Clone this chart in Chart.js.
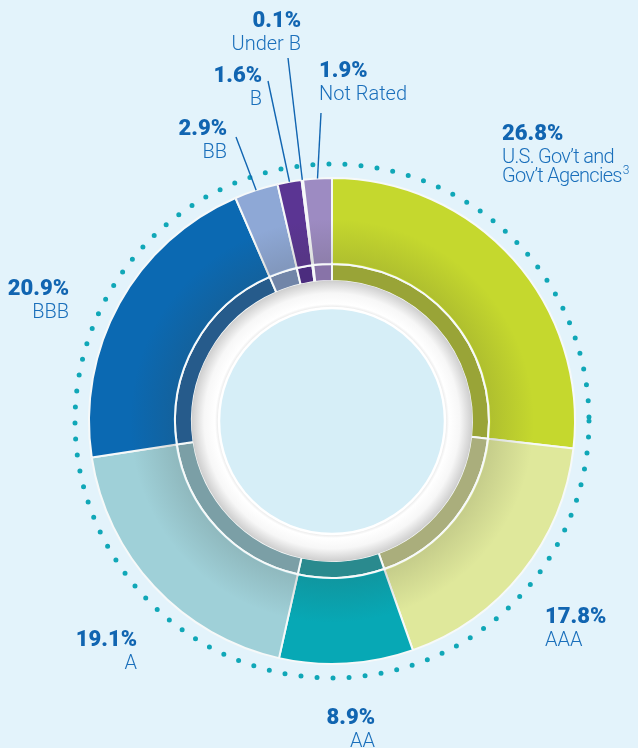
<!DOCTYPE html>
<html>
<head>
<meta charset="utf-8">
<script src="https://cdn.jsdelivr.net/npm/chart.js@4.4.1/dist/chart.umd.min.js"></script>
<style>
  html, body { margin: 0; padding: 0; background: #e3f3fb; }
  .wrap { position: relative; width: 638px; height: 748px; }
</style>
</head>
<body>
<div class="wrap"><canvas id="qualityChart"></canvas></div>
<script>
// Credit quality breakdown (% of portfolio), clockwise from 12 o'clock
const categories = ['U.S. Gov’t and Gov’t Agencies', 'AAA', 'AA', 'A', 'BBB', 'BB', 'B', 'Under B', 'Not Rated'];
const shares = [26.8, 17.8, 8.9, 19.1, 20.9, 2.9, 1.6, 0.1, 1.9];
const categoryLines = [
  ['U.S. Gov’t and', 'Gov’t Agencies'],
  ['AAA'], ['AA'], ['A'], ['BBB'], ['BB'], ['B'], ['Under B'], ['Not Rated']
];

const outerColors = ['#c5d82e', '#dfe89b', '#07a8b5', '#9fd0d8', '#0b69b2', '#8ea8d6', '#5b3593', '#6d4aa0', '#9d8bc2'];
const innerColors = ['#99a437', '#aaae7c', '#2a8a8e', '#7b9fa6', '#265b8b', '#7185a8', '#4b2c7e', '#5a3f86', '#8873a8'];

const textBlue = '#1165b1';

// where each label sits; leader = start of the pointer line
const labelSpots = [
  { x: 502, y: 140, align: 'left', tight: true },
  { x: 545, y: 623, align: 'left' },
  { x: 375, y: 724, align: 'right' },
  { x: 137, y: 646, align: 'right' },
  { x: 69, y: 295, align: 'right' },
  { x: 227, y: 135, align: 'right', leader: [236, 137] },
  { x: 262, y: 82, align: 'right', leader: [268, 81] },
  { x: 301, y: 27, align: 'right', leader: [288, 58] },
  { x: 319, y: 77, align: 'left', leader: [321, 113] }
];

const ringDecor = {
  id: 'ringDecor',
  afterDatasetsDraw(chart) {
    const ctx = chart.ctx;
    const outerArc = chart.getDatasetMeta(0).data[0];
    const innerArc = chart.getDatasetMeta(1).data[0];
    const cx = outerArc.x, cy = outerArc.y;
    const R = outerArc.outerRadius;
    const r0 = innerArc.innerRadius;
    const rMid = outerArc.innerRadius;

    ctx.save();
    // soft shadow on the inner part of the outer ring
    const sh = ctx.createRadialGradient(cx, cy, rMid, cx, cy, rMid + 45);
    sh.addColorStop(0, 'rgba(60,60,50,0.16)');
    sh.addColorStop(1, 'rgba(60,60,50,0)');
    ctx.beginPath();
    ctx.arc(cx, cy, rMid + 45, 0, Math.PI * 2);
    ctx.arc(cx, cy, rMid + 1.5, 0, Math.PI * 2, true);
    ctx.fillStyle = sh;
    ctx.fill();

    // white shaded ring
    const rIn = r0 - 27;
    const g = ctx.createRadialGradient(cx, cy, rIn, cx, cy, r0);
    g.addColorStop(0, '#e6e6e6');
    g.addColorStop(0.15, '#ffffff');
    g.addColorStop(0.55, '#f7f7f7');
    g.addColorStop(1, '#cfcfcf');
    ctx.beginPath();
    ctx.arc(cx, cy, r0 + 0.5, 0, Math.PI * 2);
    ctx.arc(cx, cy, rIn, 0, Math.PI * 2, true);
    ctx.fillStyle = g;
    ctx.fill();

    // center disc
    ctx.beginPath();
    ctx.arc(cx, cy, rIn, 0, Math.PI * 2);
    ctx.fillStyle = '#d6eef7';
    ctx.fill();
    ctx.lineWidth = 2.5;
    ctx.strokeStyle = '#ffffff';
    ctx.stroke();

    // dotted outline
    ctx.beginPath();
    ctx.arc(cx, cy, R + 14, 0, Math.PI * 2);
    ctx.setLineDash([0, 16.1]);
    ctx.lineCap = 'round';
    ctx.lineWidth = 5;
    ctx.strokeStyle = '#10a7b7';
    ctx.stroke();
    ctx.restore();
  },
  afterDraw(chart) {
    const ctx = chart.ctx;
    const arcs = chart.getDatasetMeta(0).data;
    ctx.save();
    labelSpots.forEach((spot, i) => {
      const arc = arcs[i];
      if (spot.leader) {
        const mid = (arc.startAngle + arc.endAngle) / 2;
        ctx.beginPath();
        ctx.moveTo(spot.leader[0], spot.leader[1]);
        ctx.lineTo(arc.x + Math.cos(mid) * arc.outerRadius, arc.y + Math.sin(mid) * arc.outerRadius);
        ctx.lineWidth = 1.4;
        ctx.strokeStyle = textBlue;
        ctx.stroke();
      }
      ctx.textAlign = spot.align;
      ctx.textBaseline = 'alphabetic';
      ctx.fillStyle = textBlue;
      ctx.letterSpacing = '0px';
      ctx.font = '900 22px Roboto';
      ctx.fillText(shares[i].toFixed(1) + '%', spot.x, spot.y);
      ctx.font = '300 20px Roboto';
      ctx.fillStyle = '#1a6fbb';
      ctx.letterSpacing = spot.tight ? '-0.7px' : '0px';
      categoryLines[i].forEach((line, k) => {
        const ly = spot.y + 23 + k * 19;
        ctx.fillText(line, spot.x, ly);
        if (i === 0 && k === 1) {
          const w = ctx.measureText(line).width;
          ctx.font = '300 12px Roboto';
          ctx.textAlign = 'left';
          ctx.fillText('3', spot.x + w + 1, ly - 8);
          ctx.font = '300 20px Roboto';
          ctx.textAlign = spot.align;
        }
      });
    });
    ctx.restore();
  }
};

new Chart(document.getElementById('qualityChart'), {
  type: 'doughnut',
  data: {
    labels: categories,
    datasets: [
      {
        data: shares,
        backgroundColor: outerColors,
        borderColor: '#f6f9f9',
        borderWidth: 2,
        weight: 86
      },
      {
        data: shares,
        backgroundColor: innerColors,
        borderColor: '#f6f9f9',
        borderWidth: 2,
        weight: 17
      }
    ]
  },
  options: {
    responsive: true,
    maintainAspectRatio: false,
    animation: false,
    cutout: 140,
    hoverOffset: 0,
    layout: { padding: { left: 88, top: 177, right: 62, bottom: 83 } },
    plugins: {
      legend: { display: false },
      tooltip: { enabled: false }
    }
  },
  plugins: [ringDecor]
});
</script>
</body>
</html>
